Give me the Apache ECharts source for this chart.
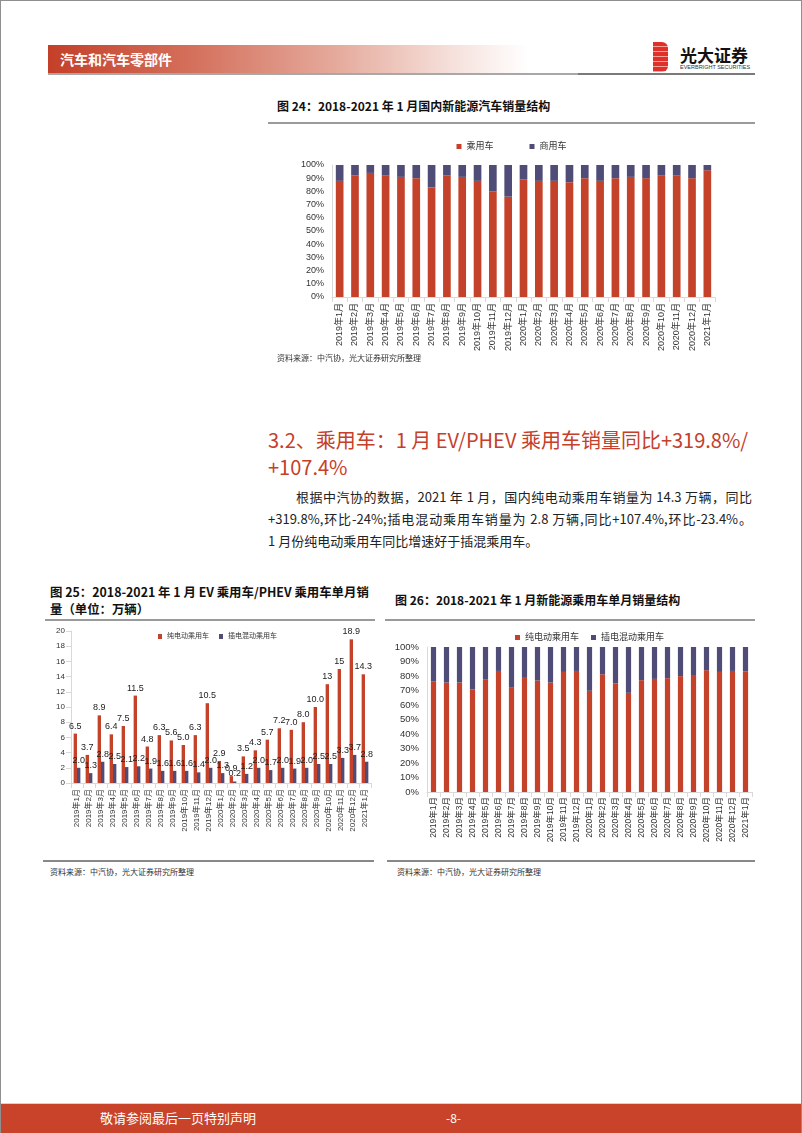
<!DOCTYPE html>
<html><head><meta charset="utf-8">
<script src="https://cdn.jsdelivr.net/npm/echarts@6/dist/echarts.min.js"></script>
<style>
html,body{margin:0;padding:0;background:#fff;}
body{width:802px;height:1133px;position:relative;overflow:hidden;font-family:"Noto Sans CJK SC","Liberation Sans",sans-serif;color:#222;}
.a{position:absolute;white-space:nowrap;}
.ttl{font-size:12px;font-weight:bold;line-height:14px;color:#111;}
.src{font-size:8px;line-height:10px;color:#333;}
.hl{position:absolute;background:#9a9a9a;height:1.5px;}
.body{font-size:13px;line-height:18px;color:#222;text-align:justify;text-align-last:justify;}
</style></head>
<body>
<div class="a" style="left:0;top:0;width:800px;height:1131px;border:1px solid #8f8f8f;"></div>

<!-- header -->
<div class="a" style="left:48px;top:45px;width:480px;height:28px;background:linear-gradient(90deg,#C43F28 0%,#D4705C 30%,#E5AA9C 60%,#F6E2DD 85%,#fff 100%);"></div>
<div class="a" style="left:60px;top:50px;font-size:14px;line-height:18px;font-weight:bold;color:#fff;">汽车和汽车零部件</div>
<div class="hl" style="left:48px;top:73px;width:707px;background:#a8a8a8;"></div>
<div class="hl" style="left:578px;top:73px;width:177px;height:2px;background:#7a7a7a;"></div>
<div class="a" style="left:653px;top:42px;width:15px;height:30px;background:repeating-linear-gradient(180deg,#E0302A 0px,#E0302A 4px,#F7A39A 4px,#F7A39A 5px);border-radius:0 6px 6px 0;"></div>
<div class="a" style="left:680px;top:45px;font-size:17px;line-height:20px;font-weight:bold;color:#111;">光大证券</div>
<div class="a" style="left:680px;top:64px;font-size:5.5px;line-height:7px;color:#333;font-family:'Liberation Sans',sans-serif;">EVERBRIGHT SECURITIES</div>

<!-- chart 24 -->
<div class="a ttl" style="left:277px;top:99px;">图 24：2018-2021 年 1 月国内新能源汽车销量结构</div>
<div class="hl" style="left:268px;top:122px;width:487px;"></div>
<div id="c24" class="a" style="left:268px;top:125px;width:487px;height:230px;"></div>
<div class="a src" style="left:277px;top:353px;">资料来源：中汽协，光大证券研究所整理</div>

<!-- section text -->
<div class="a" style="left:268px;top:430px;font-size:20px;line-height:20px;color:#C5402A;">3.2、乘用车：1 月 EV/PHEV 乘用车销量同比+319.8%/</div>
<div class="a" style="left:268px;top:457px;font-size:20px;line-height:20px;color:#C5402A;">+107.4%</div>
<div class="a body" style="left:296px;top:488px;width:456px;">根据中汽协的数据，2021 年 1 月，国内纯电动乘用车销量为 14.3 万辆，同比</div>
<div class="a body" style="left:268px;top:510px;width:484px;">+319.8%,环比-24%;插电混动乘用车销量为 2.8 万辆,同比+107.4%,环比-23.4%。</div>
<div class="a" style="left:268px;top:532px;font-size:13px;line-height:18px;color:#222;">1 月份纯电动乘用车同比增速好于插混乘用车。</div>

<!-- chart 25 -->
<div class="a ttl" style="left:50px;top:585px;font-size:12.4px;">图 25：2018-2021 年 1 月 EV 乘用车/PHEV 乘用车单月销</div>
<div class="a ttl" style="left:50px;top:602px;font-size:12.4px;">量（单位：万辆）</div>
<div class="hl" style="left:45px;top:619px;width:330px;"></div>
<div id="c25" class="a" style="left:45px;top:622px;width:330px;height:228px;"></div>
<div class="hl" style="left:43px;top:860px;width:331px;background:#888;"></div>
<div class="a src" style="left:50px;top:867px;">资料来源：中汽协，光大证券研究所整理</div>

<!-- chart 26 -->
<div class="a ttl" style="left:395px;top:593px;">图 26：2018-2021 年 1 月新能源乘用车单月销量结构</div>
<div class="hl" style="left:385px;top:619px;width:370px;"></div>
<div id="c26" class="a" style="left:385px;top:622px;width:370px;height:228px;"></div>
<div class="hl" style="left:387px;top:860px;width:368px;background:#888;"></div>
<div class="a src" style="left:397px;top:867px;">资料来源：中汽协，光大证券研究所整理</div>

<!-- footer -->
<div class="a" style="left:1px;top:1103px;width:800px;height:29px;background:#C8432A;border-top:1px solid #F2C9BE;"></div>
<div class="a" style="left:100px;top:1110px;font-size:13px;line-height:16px;color:#fff;">敬请参阅最后一页特别声明</div>
<div class="a" style="left:446px;top:1110px;font-size:12px;line-height:16px;color:#fff;">-8-</div>

<script>
const months = ['2019年1月','2019年2月','2019年3月','2019年4月','2019年5月','2019年6月','2019年7月','2019年8月','2019年9月','2019年10月','2019年11月','2019年12月','2020年1月','2020年2月','2020年3月','2020年4月','2020年5月','2020年6月','2020年7月','2020年8月','2020年9月','2020年10月','2020年11月','2020年12月','2021年1月'];

// Fig 24: share of NEV sales (%)
const passengerShare = [88,92,94,92,91,90,83,92,91,88,80,76,89,88,88,87,90,88,90,91,90,92,92,90,96];
const commercialShare = [12,8,6,8,9,10,17,8,9,12,20,24,11,12,12,13,10,12,10,9,10,8,8,10,4];

// Fig 25: monthly sales (10k units)
const evSales = [6.5,3.7,8.9,6.4,7.5,11.5,4.8,6.3,5.6,5.0,6.3,10.5,2.9,0.9,3.5,4.3,5.7,7.2,7.0,8.0,10.0,13,15,18.9,14.3];
const evLabels = ['6.5','3.7','8.9','6.4','7.5','11.5','4.8','6.3','5.6','5.0','6.3','10.5','2.9','0.9','3.5','4.3','5.7','7.2','7.0','8.0','10.0','13','15','18.9','14.3'];
const phevSales = [2.0,1.3,2.8,2.5,2.1,2.2,1.9,1.6,1.6,1.6,1.4,2.0,1.3,0.2,1.2,2.0,1.7,2.0,1.9,2.0,2.5,2.5,3.3,3.7,2.8];

// Fig 26: share of passenger NEV sales (%)
const evShare = [76.4,75.5,75.5,70.7,77.8,83.5,71.9,78.7,76.9,75.5,82.8,83.5,69.8,81.2,74.8,68.4,77.1,78.0,78.5,79.9,80.1,84.0,82.8,83.5,83.1];
const phevShare = [23.6,24.5,24.5,29.3,22.2,16.5,28.1,21.3,23.1,24.5,17.2,16.5,30.2,18.8,25.2,31.6,22.9,22.0,21.5,20.1,19.9,16.0,17.2,16.5,16.9];

const RED = '#C4412A', NAVY = '#4F4D77';
const FONT = '"Liberation Sans","Noto Sans CJK SC",sans-serif';
const axisGray = '#D9D9D9';

function catAxis(fs, margin){
  return {type:'category', data: months,
    axisLine:{lineStyle:{color:axisGray}}, axisTick:{show:true, lineStyle:{color:axisGray}},
    axisLabel:{rotate:90, fontSize:fs, color:'#333', fontFamily:FONT, margin:margin, interval:0}};
}

// chart 24
echarts.init(document.getElementById('c24')).setOption({
  animation:false,
  legend:{top:12, left:'center', itemWidth:5, itemHeight:5, itemGap:36, icon:'rect',
    textStyle:{fontSize:9, color:'#333', fontFamily:FONT}, data:['乘用车','商用车']},
  grid:{left:64, right:40, top:40, bottom:58},
  xAxis: catAxis(9, 6),
  yAxis:{type:'value', min:0, max:100, interval:10,
    axisLine:{show:true, lineStyle:{color:axisGray}}, axisTick:{show:false}, splitLine:{show:false},
    axisLabel:{formatter:'{value}%', fontSize:9, color:'#333', fontFamily:FONT, margin:8}},
  series:[
    {name:'乘用车', type:'bar', stack:'s', data:passengerShare, barWidth:'50%', itemStyle:{color:RED}},
    {name:'商用车', type:'bar', stack:'s', data:commercialShare, barWidth:'50%', itemStyle:{color:NAVY}}
  ]
});

// chart 25
echarts.init(document.getElementById('c25')).setOption({
  animation:false,
  legend:{top:6, left:108, itemWidth:4, itemHeight:5, itemGap:10, icon:'rect',
    textStyle:{fontSize:7, color:'#333', fontFamily:FONT}, data:['纯电动乘用车','插电混动乘用车']},
  grid:{left:26, right:4, top:9, bottom:67},
  xAxis: catAxis(8, 6),
  yAxis:{type:'value', min:0, max:20, interval:2,
    axisLine:{show:true, lineStyle:{color:axisGray}}, axisTick:{show:true, lineStyle:{color:axisGray}}, splitLine:{show:false},
    axisLabel:{fontSize:8, color:'#333', fontFamily:FONT, margin:6}},
  series:[
    {name:'纯电动乘用车', type:'bar', data:evSales, barGap:'0%', barCategoryGap:'44%', itemStyle:{color:RED},
     label:{show:true, position:'top', distance:3, fontSize:9, color:'#222', fontFamily:FONT,
       formatter:p=>evLabels[p.dataIndex]}},
    {name:'插电混动乘用车', type:'bar', data:phevSales, itemStyle:{color:NAVY},
     label:{show:true, position:'top', distance:3, fontSize:9, color:'#222', fontFamily:FONT,
       formatter:p=>p.value.toFixed(1)}}
  ]
});

// chart 26
echarts.init(document.getElementById('c26')).setOption({
  animation:false,
  legend:{top:6, left:125, itemWidth:5, itemHeight:5, itemGap:12, icon:'rect',
    textStyle:{fontSize:9, color:'#333', fontFamily:FONT}, data:['纯电动乘用车','插电混动乘用车']},
  grid:{left:42, right:3, top:25, bottom:58},
  xAxis: catAxis(8.5, 5),
  yAxis:{type:'value', min:0, max:100, interval:10,
    axisLine:{show:true, lineStyle:{color:axisGray}}, axisTick:{show:false}, splitLine:{show:false},
    axisLabel:{formatter:'{value}%', fontSize:9.5, color:'#333', fontFamily:FONT, margin:8}},
  series:[
    {name:'纯电动乘用车', type:'bar', stack:'s', data:evShare, barWidth:'40%', itemStyle:{color:RED}},
    {name:'插电混动乘用车', type:'bar', stack:'s', data:phevShare, barWidth:'40%', itemStyle:{color:NAVY}}
  ]
});
</script>
</body></html>
